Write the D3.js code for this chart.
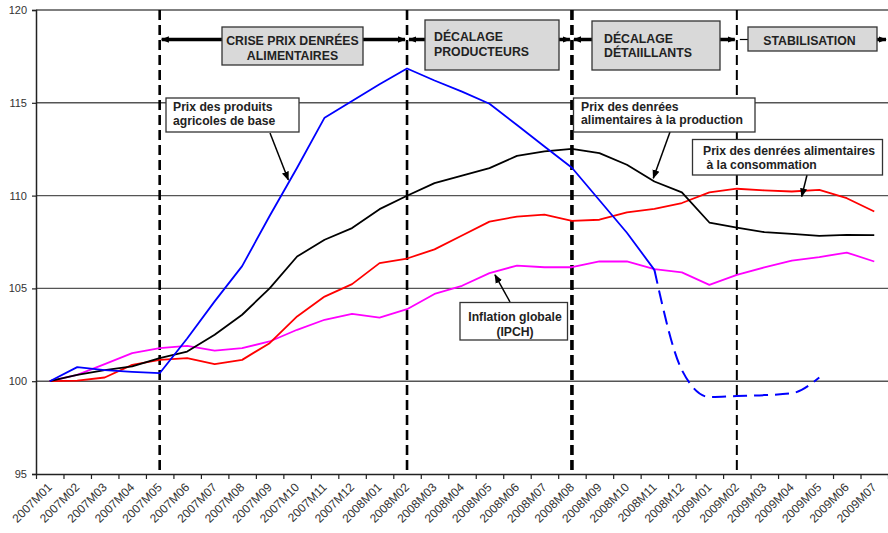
<!DOCTYPE html>
<html>
<head>
<meta charset="utf-8">
<script src="https://cdn.jsdelivr.net/npm/d3@7/dist/d3.min.js"></script>
<style>
body { margin: 0; background: #fff; }
text { font-family: "Liberation Sans", Arial, sans-serif; }
</style>
</head>
<body>
<svg id="chart"></svg>
<script>
var months = ['2007M01', '2007M02', '2007M03', '2007M04', '2007M05', '2007M06', '2007M07', '2007M08',
    '2007M09', '2007M10', '2007M11', '2007M12', '2008M01', '2008M02', '2008M03', '2008M04', '2008M05',
    '2008M06', '2008M07', '2008M08', '2008M09', '2008M10', '2008M11', '2008M12', '2009M01', '2009M02',
    '2009M03', '2009M04', '2009M05', '2009M06', '2009M07'];
var yTicks = [95, 100, 105, 110, 115, 120];

// prix des produits agricoles de base (dashed from 2008M11 on)
var agricole = [100, 100.76, 100.6, 100.5, 100.43, 102.3, 104.3, 106.2, 108.9, 111.5, 114.2, 115.1,
    116.0, 116.85, 116.2, 115.6, 114.95, 113.8, 112.65, 111.5, 109.75, 108.0, 106.0, 100.6, 99.15,
    99.2, 99.25, 99.35, 100.2];
var agricoleDashFrom = '2008M11';
var production = [100, 100.34, 100.6, 100.8, 101.24, 101.6, 102.5, 103.58, 105.0, 106.72, 107.62,
    108.25, 109.27, 109.99, 110.67, 111.07, 111.48, 112.14, 112.38, 112.52, 112.29, 111.66, 110.76,
    110.17, 108.55, 108.28, 108.03, 107.94, 107.83, 107.88, 107.87];
var consommation = [100, 100.03, 100.2, 100.88, 101.15, 101.24, 100.92, 101.15, 102.05, 103.49, 104.56,
    105.23, 106.36, 106.61, 107.1, 107.85, 108.6, 108.87, 108.97, 108.64, 108.7, 109.1, 109.29, 109.6,
    110.17, 110.37, 110.28, 110.22, 110.31, 109.86, 109.14];
var ipch = [100, 100.34, 100.92, 101.51, 101.78, 101.9, 101.65, 101.78, 102.14, 102.77, 103.31, 103.63,
    103.43, 103.88, 104.7, 105.14, 105.82, 106.23, 106.14, 106.14, 106.45, 106.45, 106.04, 105.86,
    105.19, 105.73, 106.13, 106.5, 106.69, 106.93, 106.45];

var phaseBreaks = ['2007M05', '2008M02', '2008M08', '2009M02'];
var phaseLabels = [['CRISE PRIX DENRÉES', 'ALIMENTAIRES'], ['DÉCALAGE', 'PRODUCTEURS'],
    ['DÉCALAGE', 'DÉTAIILLANTS'], ['STABILISATION']];

var calloutLabels = [['Prix des produits', 'agricoles de base'],
    ['Prix des denrées', 'alimentaires à la production'],
    ['Prix des denrées alimentaires', ' à la consommation'],
    ['Inflation globale', '(IPCH)']];
// arrow targets: [month index (fractional), value]
var calloutTargets = [[8.68, 110.85], [21.96, 110.94], [27.36, 109.95], [16.2, 105.73]];

var W = 888, H = 533;
var MARGIN = { LEFT: 36, RIGHT: 0, TOP: 10, BOTTOM: 59 };

var svg = d3.select('#chart')
    .attr('width', W)
    .attr('height', H);

var defs = svg.append('defs');
defs.append('marker')
    .attr('id', 'head')
    .attr('viewBox', '0 0 10 10')
    .attr('refX', 9).attr('refY', 5)
    .attr('markerWidth', 9).attr('markerHeight', 9)
    .attr('markerUnits', 'userSpaceOnUse')
    .attr('orient', 'auto-start-reverse')
    .append('path')
    .attr('d', 'M0,1 L10,5 L0,9 Z')
    .attr('fill', '#000');
defs.append('marker')
    .attr('id', 'phasehead')
    .attr('viewBox', '0 0 10 10')
    .attr('refX', 9).attr('refY', 5)
    .attr('markerWidth', 8).attr('markerHeight', 8)
    .attr('markerUnits', 'userSpaceOnUse')
    .attr('orient', 'auto-start-reverse')
    .append('path')
    .attr('d', 'M0,1 L10,5 L0,9 Z')
    .attr('fill', '#000');

var xBand = d3.scaleBand()
    .domain(months)
    .range([MARGIN.LEFT, W - MARGIN.RIGHT]);
var bw = xBand.bandwidth();
var xIdx = d3.scaleLinear()
    .domain([0, months.length])
    .range([MARGIN.LEFT, W - MARGIN.RIGHT]);
var xc = function (i) { return xIdx(i + 0.5); };
var y = d3.scaleLinear()
    .domain([95, 120])
    .range([H - MARGIN.BOTTOM - 0, MARGIN.TOP]);

// horizontal grid
svg.append('g')
    .selectAll('line')
    .data(yTicks.slice(1))
    .join('line')
    .attr('x1', MARGIN.LEFT).attr('x2', W)
    .attr('y1', function (d) { return y(d); })
    .attr('y2', function (d) { return y(d); })
    .attr('stroke', '#555')
    .attr('stroke-width', 1.4);

// y axis
var yAxis = d3.axisLeft(y)
    .tickValues(yTicks)
    .tickSize(4)
    .tickPadding(5);
var gy = svg.append('g')
    .attr('transform', 'translate(' + MARGIN.LEFT + ',0)')
    .call(yAxis);
gy.select('.domain').attr('stroke', '#222').attr('stroke-width', 1.5);
gy.selectAll('.tick line').attr('stroke', '#222').attr('stroke-width', 1.2);
gy.selectAll('.tick text')
    .style('font-family', '"Liberation Sans", Arial, sans-serif')
    .style('font-size', '11px')
    .attr('fill', '#333');

// x axis: ticks on month boundaries
var xTickAxis = d3.axisBottom(xIdx)
    .tickValues(d3.range(0, months.length + 1))
    .tickFormat('')
    .tickSize(5)
    .tickSizeOuter(0);
var gx = svg.append('g')
    .attr('transform', 'translate(0,' + y(95) + ')')
    .call(xTickAxis);
gx.select('.domain').attr('stroke', '#222').attr('stroke-width', 1.5);
gx.selectAll('.tick line').attr('stroke', '#222').attr('stroke-width', 1.2);

var xLabelAxis = d3.axisBottom(xBand).tickSize(0).tickPadding(0);
var gxl = svg.append('g')
    .attr('transform', 'translate(0,' + y(95) + ')')
    .call(xLabelAxis);
gxl.select('.domain').remove();
gxl.selectAll('.tick text')
    .attr('y', 0).attr('dy', 0)
    .attr('text-anchor', 'end')
    .attr('transform', 'translate(3,14) rotate(-45)')
    .style('font-family', '"Liberation Sans", Arial, sans-serif')
    .style('font-size', '12px')
    .attr('fill', '#333');

// phase separators
var breakWidths = [2.6, 2.6, 3.6, 2];
svg.append('g')
    .selectAll('line')
    .data(phaseBreaks)
    .join('line')
    .attr('x1', function (d) { return xBand(d) + bw / 2; })
    .attr('x2', function (d) { return xBand(d) + bw / 2; })
    .attr('y1', y(120)).attr('y2', y(95))
    .attr('stroke', '#000')
    .attr('stroke-width', function (d, i) { return breakWidths[i]; })
    .attr('stroke-dasharray', '10,5');

// series
var line = d3.line()
    .x(function (d, i) { return xc(i); })
    .y(function (d) { return y(d); });
var drawSeries = function (values, color) {
    svg.append('path')
        .datum(values)
        .attr('d', line)
        .attr('fill', 'none')
        .attr('stroke', color)
        .attr('stroke-width', 1.8)
        .attr('stroke-linejoin', 'round');
};
drawSeries(ipch, '#ff00ff');
drawSeries(consommation, '#ff0000');
drawSeries(production, '#000000');

var dashIdx = months.indexOf(agricoleDashFrom);
drawSeries(agricole.slice(0, dashIdx + 1), '#0000ff');
var dashLine = d3.line()
    .x(function (d) { return xc(d.i); })
    .y(function (d) { return y(d.v); })
    .curve(d3.curveMonotoneX);
svg.append('path')
    .datum(agricole.map(function (v, i) { return { i: i, v: v }; }).slice(dashIdx))
    .attr('d', dashLine)
    .attr('fill', 'none')
    .attr('stroke', '#0000ff')
    .attr('stroke-width', 2)
    .attr('stroke-dasharray', '14,7');

// phase boxes and arrows
var phaseBoxes = [
    { x: 222, y: 27, w: 141, h: 38, align: 'middle', tx: 292.5, base: [45, 60] },
    { x: 425, y: 20, w: 134, h: 50, align: 'start', tx: 434, base: [41, 56] },
    { x: 592, y: 21, w: 128, h: 49, align: 'start', tx: 604, base: [42.5, 57] },
    { x: 748, y: 27, w: 129, h: 24, align: 'middle', tx: 809.5, base: [44.5] }
];
var phaseEdges = phaseBreaks.map(function (d) { return xBand(d) + bw / 2; }).concat([W]);
var arrowY = 39.5;
var gp = svg.append('g');
phaseBoxes.forEach(function (b, i) {
    var left = phaseEdges[i], right = phaseEdges[i + 1];
    if (i < 3) {
        gp.append('line')
            .attr('x1', b.x).attr('x2', left + 2)
            .attr('y1', arrowY).attr('y2', arrowY)
            .attr('stroke', '#000').attr('stroke-width', 3.5)
            .attr('marker-end', 'url(#phasehead)');
    } else {
        gp.append('line')
            .attr('x1', b.x).attr('x2', left + 3)
            .attr('y1', arrowY).attr('y2', arrowY)
            .attr('stroke', '#000').attr('stroke-width', 1.2);
    }
    gp.append('line')
        .attr('x1', b.x + b.w).attr('x2', right - 2)
        .attr('y1', arrowY).attr('y2', arrowY)
        .attr('stroke', '#000').attr('stroke-width', 3.5)
        .attr('marker-end', 'url(#phasehead)');
    gp.append('rect')
        .attr('x', b.x).attr('y', b.y)
        .attr('width', b.w).attr('height', b.h)
        .attr('fill', '#d9d9d9')
        .attr('stroke', '#333').attr('stroke-width', 1.3);
    gp.append('g')
        .selectAll('text')
        .data(phaseLabels[i])
        .join('text')
        .attr('x', b.tx)
        .attr('y', function (d, j) { return b.base[j]; })
        .attr('text-anchor', b.align)
        .style('font-size', '12.3px')
        .style('font-weight', 'bold')
        .attr('fill', '#222')
        .text(function (d) { return d; });
});

// callouts
var callBoxes = [
    { x: 166, y: 98, w: 133, h: 34, align: 'start', tx: 173, base: [110.5, 124.5], from: [270, 133] },
    { x: 573.5, y: 98, w: 181.5, h: 34, align: 'start', tx: 581, base: [110.5, 124], from: [670, 132] },
    { x: 692.5, y: 139.5, w: 190, h: 35.5, align: 'start', tx: 703, base: [154.5, 168.5], from: [807, 175] },
    { x: 460, y: 302.5, w: 107.5, h: 37.5, align: 'middle', tx: 515, base: [321, 335.5], from: [510, 302] }
];
var gc = svg.append('g');
callBoxes.forEach(function (b, i) {
    var t = calloutTargets[i];
    gc.append('line')
        .attr('x1', b.from[0]).attr('y1', b.from[1])
        .attr('x2', xc(t[0])).attr('y2', y(t[1]))
        .attr('stroke', '#000').attr('stroke-width', 1.5)
        .attr('marker-end', 'url(#head)');
    gc.append('rect')
        .attr('x', b.x).attr('y', b.y)
        .attr('width', b.w).attr('height', b.h)
        .attr('fill', '#fff')
        .attr('stroke', '#333').attr('stroke-width', 1.3);
    gc.append('g')
        .selectAll('text')
        .data(calloutLabels[i])
        .join('text')
        .attr('x', b.tx)
        .attr('y', function (d, j) { return b.base[j]; })
        .attr('text-anchor', b.align)
        .style('font-size', '12.2px')
        .style('font-weight', 'bold')
        .style('white-space', 'pre')
        .attr('xml:space', 'preserve')
        .attr('fill', '#222')
        .text(function (d) { return d; });
});
</script>
</body>
</html>
